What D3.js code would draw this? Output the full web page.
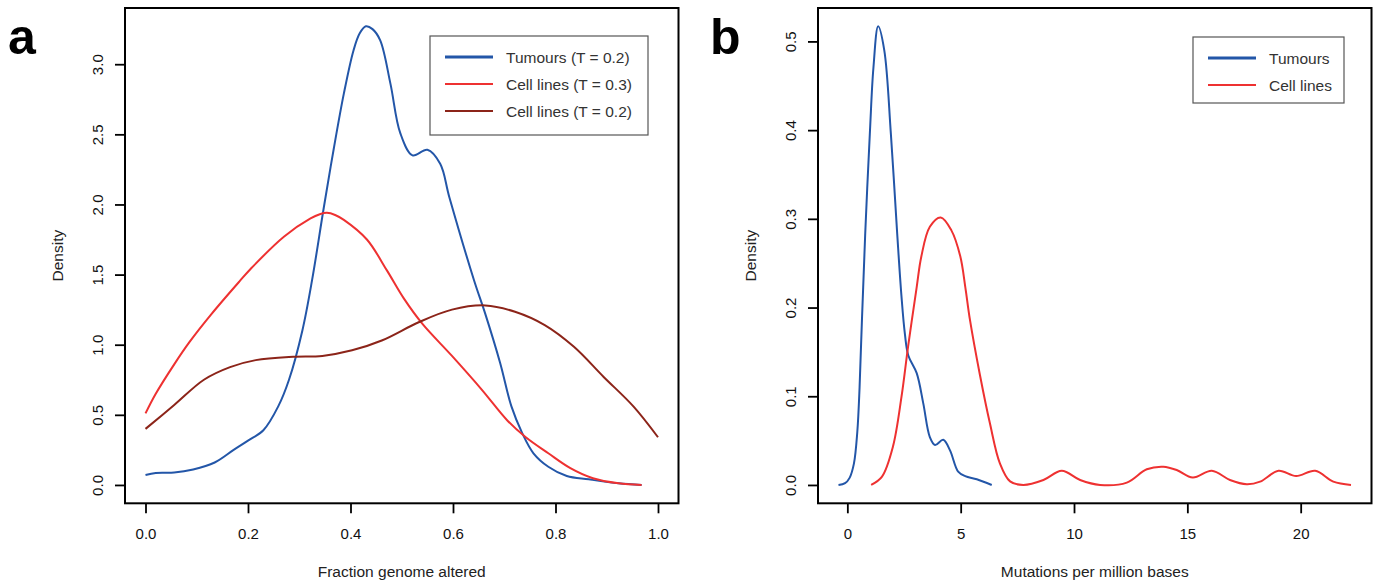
<!DOCTYPE html>
<html>
<head>
<meta charset="utf-8">
<script src="https://cdn.jsdelivr.net/npm/d3@7"></script>
<style>
  body { margin: 0; background: #fff; }
  svg text { font-family: "Liberation Sans", Arial, sans-serif; }
</style>
</head>
<body>
<div id="chart"></div>
<script>
// panel a: fraction genome altered, density estimates [x, density]
const aTumours = [
  [0, 0.071], [0.02, 0.085], [0.056, 0.088], [0.093, 0.11], [0.135, 0.16], [0.172, 0.25],
  [0.2, 0.316], [0.23, 0.39], [0.259, 0.56], [0.28, 0.75], [0.306, 1.10], [0.325, 1.46],
  [0.348, 1.98], [0.367, 2.39], [0.387, 2.79], [0.406, 3.10], [0.418, 3.22], [0.43, 3.27],
  [0.443, 3.25], [0.458, 3.17], [0.478, 2.86], [0.497, 2.51], [0.521, 2.35], [0.55, 2.39],
  [0.575, 2.29], [0.593, 2.05], [0.641, 1.46], [0.663, 1.22], [0.692, 0.87], [0.714, 0.56],
  [0.735, 0.37], [0.757, 0.226], [0.786, 0.13], [0.822, 0.064], [0.865, 0.04], [0.923, 0.012],
  [0.968, 0]
];
const aCellLines03 = [
  [0, 0.51], [0.02, 0.65], [0.056, 0.86], [0.086, 1.02], [0.129, 1.22], [0.183, 1.45],
  [0.205, 1.54], [0.27, 1.77], [0.322, 1.90], [0.34, 1.93], [0.354, 1.94], [0.37, 1.925],
  [0.387, 1.89], [0.432, 1.75], [0.471, 1.53], [0.504, 1.33], [0.54, 1.15], [0.598, 0.92],
  [0.656, 0.68], [0.706, 0.46], [0.742, 0.34], [0.786, 0.226], [0.829, 0.12], [0.873, 0.048],
  [0.923, 0.012], [0.968, 0]
];
const aCellLines02 = [
  [0, 0.40], [0.056, 0.57], [0.114, 0.75], [0.165, 0.84], [0.215, 0.89], [0.288, 0.914],
  [0.345, 0.92], [0.403, 0.96], [0.461, 1.03], [0.533, 1.16], [0.598, 1.25], [0.663, 1.28],
  [0.721, 1.235], [0.779, 1.14], [0.836, 0.985], [0.894, 0.77], [0.952, 0.56], [1.0, 0.34]
];
const aLabels = ["Tumours (T = 0.2)", "Cell lines (T = 0.3)", "Cell lines (T = 0.2)"];
const aTicksX = [0, 0.2, 0.4, 0.6, 0.8, 1.0];
const aTicksY = [0, 0.5, 1.0, 1.5, 2.0, 2.5, 3.0];

// panel b: mutations per million bases
const bTumours = [
  [-0.39, 0], [-0.1, 0.002], [0.1, 0.008], [0.29, 0.024], [0.44, 0.06], [0.54, 0.11],
  [0.65, 0.19], [0.8, 0.29], [1.0, 0.40], [1.15, 0.47], [1.36, 0.517], [1.63, 0.49],
  [1.92, 0.396], [2.2, 0.283], [2.39, 0.212], [2.54, 0.17], [2.69, 0.146], [3.06, 0.126],
  [3.35, 0.092], [3.64, 0.054], [3.87, 0.045], [4.23, 0.051], [4.53, 0.039], [4.89, 0.015],
  [5.2, 0.01], [5.71, 0.0064], [6.37, 0]
];
const bCellLines = [
  [1.05, 0], [1.53, 0.0094], [2.01, 0.043], [2.39, 0.0995], [2.68, 0.156], [3.06, 0.223],
  [3.26, 0.257], [3.64, 0.291], [4.12, 0.3015], [4.59, 0.287], [4.98, 0.258], [5.21, 0.222],
  [5.41, 0.186], [5.85, 0.124], [6.29, 0.0695], [6.73, 0.0244], [7.18, 0.004], [7.76, 0],
  [8.65, 0.0056], [9.46, 0.016], [10.27, 0.0056], [11.15, 0], [12.33, 0.0026], [13.21, 0.0177],
  [13.94, 0.0206], [14.53, 0.0169], [15.24, 0.0083], [16.08, 0.016], [16.88, 0.0056],
  [17.62, 0.0008], [18.21, 0.0037], [19.02, 0.016], [19.8, 0.0101], [20.64, 0.016],
  [21.44, 0.0037], [22.22, 0]
];
const bLabels = ["Tumours", "Cell lines"];
const bTicksX = [0, 5, 10, 15, 20];
const bTicksY = [0, 0.1, 0.2, 0.3, 0.4, 0.5];

const blue = "#2356a8", red = "#ee3131", brown = "#8c2419";

const width = 1378, height = 584;
const svg = d3.select("#chart").append("svg")
    .attr("width", width)
    .attr("height", height);

// R style range: data extent padded by 4% on each side
function padded(ext) {
  const r = ext[1] - ext[0];
  return [ext[0] - 0.04 * r, ext[1] + 0.04 * r];
}

function panel(opt) {
  const all = opt.series.flatMap(s => s.data);
  const x = d3.scaleLinear().domain(padded(d3.extent(all, d => d[0]))).range([opt.left, opt.right]);
  const y = d3.scaleLinear().domain(padded([0, d3.max(all, d => d[1])])).range([opt.bottom, opt.top]);

  const g = svg.append("g");

  const line = d3.line()
      .x(d => x(d[0]))
      .y(d => y(d[1]))
      .curve(d3.curveCatmullRom.alpha(0.5));

  g.selectAll("path.curve")
    .data(opt.series)
    .enter().append("path")
      .attr("class", "curve")
      .attr("d", d => line(d.data))
      .attr("fill", "none")
      .attr("stroke", d => d.color)
      .attr("stroke-width", 2)
      .attr("stroke-linejoin", "round");

  // box
  g.append("rect")
      .attr("x", opt.left).attr("y", opt.top)
      .attr("width", opt.right - opt.left).attr("height", opt.bottom - opt.top)
      .attr("fill", "none").attr("stroke", "#000").attr("stroke-width", 2);

  // x axis
  const xa = g.append("g")
      .attr("transform", `translate(0,${opt.bottom})`)
      .call(d3.axisBottom(x).tickValues(opt.ticksX).tickSize(10).tickFormat(opt.fmtX));
  xa.select(".domain").remove();
  xa.selectAll(".tick line").attr("stroke-width", 1.8);
  xa.selectAll(".tick text")
      .attr("y", 35.7).attr("dy", 0)
      .attr("font-size", 15).attr("fill", "#111")
      .style("font-family", "Liberation Sans, Arial, sans-serif");

  // y axis, labels turned like R's default
  const ya = g.append("g")
      .attr("transform", `translate(${opt.left},0)`)
      .call(d3.axisLeft(y).tickValues(opt.ticksY).tickSize(10).tickFormat(d3.format(".1f")));
  ya.select(".domain").remove();
  ya.selectAll(".tick line").attr("stroke-width", 1.8);
  ya.selectAll(".tick text")
      .attr("x", 0).attr("dy", 0)
      .attr("text-anchor", "middle")
      .attr("transform", "translate(-22.5,0) rotate(-90)")
      .attr("font-size", 15).attr("fill", "#111")
      .style("font-family", "Liberation Sans, Arial, sans-serif");

  // axis titles
  g.append("text")
      .attr("x", (opt.left + opt.right) / 2).attr("y", 577)
      .attr("text-anchor", "middle").attr("font-size", 15.5).attr("fill", "#222")
      .text(opt.xTitle);
  g.append("text")
      .attr("transform", `translate(${opt.left - 62},${(opt.top + opt.bottom) / 2}) rotate(-90)`)
      .attr("text-anchor", "middle").attr("font-size", 15.5).attr("fill", "#222")
      .text("Density");

  // panel letter
  g.append("text")
      .attr("x", opt.letterX).attr("y", 54)
      .attr("font-size", 50).attr("font-weight", "bold").attr("fill", "#000")
      .text(opt.letter);

  // legend
  const lg = g.append("g").attr("transform", `translate(${opt.legend.x},${opt.legend.y})`);
  lg.append("rect")
      .attr("width", opt.legend.w).attr("height", opt.legend.h)
      .attr("fill", "#fff").attr("stroke", "#555").attr("stroke-width", 1.2);
  const items = lg.selectAll(".item")
    .data(opt.series)
    .enter().append("g")
      .attr("class", "item")
      .attr("transform", (d, i) => `translate(0,${21 + i * 27})`);
  items.append("line")
      .attr("x1", 15).attr("x2", 63)
      .attr("stroke", d => d.color)
      .attr("stroke-width", (d, i) => i === 0 ? 3 : 2);
  items.append("text")
      .attr("x", 76).attr("y", 5.5)
      .attr("font-size", 15.5).attr("fill", "#333")
      .text(d => d.label);
}

panel({
  left: 125, right: 678.5, top: 8, bottom: 503.3,
  series: [
    { data: aTumours, color: blue, label: aLabels[0] },
    { data: aCellLines03, color: red, label: aLabels[1] },
    { data: aCellLines02, color: brown, label: aLabels[2] }
  ],
  ticksX: aTicksX, ticksY: aTicksY, fmtX: d3.format(".1f"),
  xTitle: "Fraction genome altered",
  letter: "a", letterX: 8,
  legend: { x: 430, y: 36, w: 218, h: 99 }
});

panel({
  left: 818, right: 1371.5, top: 8, bottom: 503.3,
  series: [
    { data: bTumours, color: blue, label: bLabels[0] },
    { data: bCellLines, color: red, label: bLabels[1] }
  ],
  ticksX: bTicksX, ticksY: bTicksY, fmtX: d3.format("d"),
  xTitle: "Mutations per million bases",
  letter: "b", letterX: 710,
  legend: { x: 1193, y: 37, w: 151, h: 66 }
});
</script>
</body>
</html>
